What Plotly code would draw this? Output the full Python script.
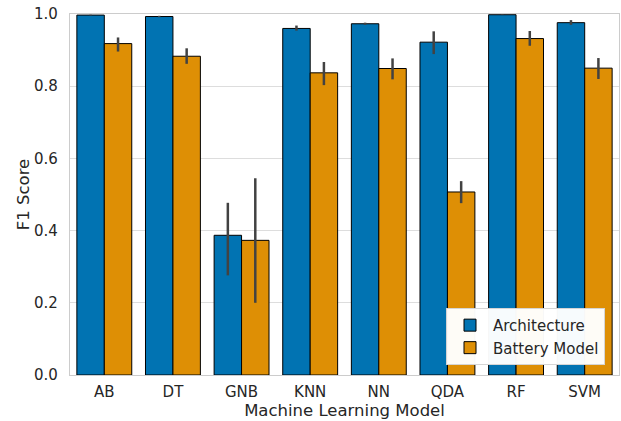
import plotly.graph_objects as go

models = ["AB", "DT", "GNB", "KNN", "NN", "QDA", "RF", "SVM"]
arch = [0.997, 0.993, 0.387, 0.960, 0.973, 0.922, 0.998, 0.976]
arch_hi = [0.998, 0.995, 0.477, 0.968, 0.976, 0.952, 0.999, 0.983]
arch_lo = [0.996, 0.991, 0.276, 0.954, 0.970, 0.889, 0.997, 0.970]
batt = [0.918, 0.883, 0.373, 0.837, 0.849, 0.507, 0.932, 0.850]
batt_hi = [0.935, 0.905, 0.545, 0.867, 0.877, 0.537, 0.953, 0.878]
batt_lo = [0.896, 0.862, 0.200, 0.803, 0.819, 0.476, 0.912, 0.820]

def err(v, hi, lo):
    return dict(type="data", symmetric=False,
                array=[h - x for x, h in zip(v, hi)],
                arrayminus=[x - l for x, l in zip(v, lo)],
                color="#424242", thickness=2.5, width=0)

fig = go.Figure()
fig.add_bar(x=models, y=arch, name="Architecture", marker_color="#0173b2",
            marker_line=dict(color="black", width=1), error_y=err(arch, arch_hi, arch_lo))
fig.add_bar(x=models, y=batt, name="Battery Model", marker_color="#de8f05",
            marker_line=dict(color="black", width=1), error_y=err(batt, batt_hi, batt_lo))

fig.update_layout(
    width=621, height=421,
    margin=dict(l=70, r=2, t=14, b=46),
    paper_bgcolor="white", plot_bgcolor="white",
    barmode="group", bargap=0.2, bargroupgap=0,
    font=dict(family="DejaVu Sans", size=15, color="#262626"),
    showlegend=True,
    legend=dict(x=0.9745, y=0.028, xanchor="right", yanchor="bottom",
                bgcolor="rgba(255,255,255,0.97)", bordercolor="#d5d5d5", borderwidth=1,
                itemwidth=36,
                font=dict(family="DejaVu Sans", size=15, color="#262626")),
    xaxis=dict(title=dict(text="Machine Learning Model", font=dict(size=16.5), standoff=0),
               showgrid=False, showline=True, linecolor="#cccccc", linewidth=1.2, mirror=True,
               ticks="", ticklabelstandoff=3, tickfont=dict(size=15)),
    yaxis=dict(title=dict(text="F1 Score", font=dict(size=16.5), standoff=0),
               range=[0, 1.0], dtick=0.2, tickformat=".1f",
               showgrid=True, gridcolor="#dddddd", gridwidth=1,
               showline=True, linecolor="#cccccc", linewidth=1.2, mirror=True,
               zeroline=False, ticks="", ticklabelstandoff=8, tickfont=dict(size=15)),
)
fig.write_html("out.html", config={"displayModeBar": False},
               post_script="document.body.style.margin='0';document.body.style.padding='0';")
